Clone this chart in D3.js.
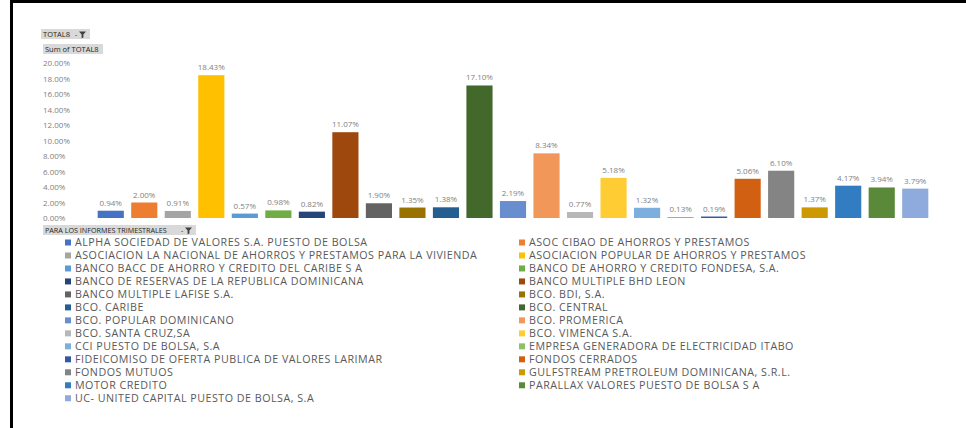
<!DOCTYPE html>
<html>
<head>
<meta charset="utf-8">
<script src="https://cdn.jsdelivr.net/npm/d3@7"></script>
<style>
  body { margin: 0; background: #fff; }
  text { font-family: "Open Sans", sans-serif; }
</style>
</head>
<body>
<svg width="966" height="428"></svg>
<script>
// Entities in pivot order
const names = [
  "ALPHA SOCIEDAD DE VALORES S.A. PUESTO DE BOLSA",
  "ASOC CIBAO DE AHORROS Y PRESTAMOS",
  "ASOCIACION LA NACIONAL DE AHORROS Y PRESTAMOS PARA LA VIVIENDA",
  "ASOCIACION POPULAR DE AHORROS Y PRESTAMOS",
  "BANCO BACC DE AHORRO Y CREDITO DEL CARIBE S A",
  "BANCO DE AHORRO Y CREDITO FONDESA, S.A.",
  "BANCO DE RESERVAS DE LA REPUBLICA DOMINICANA",
  "BANCO MULTIPLE BHD LEON",
  "BANCO MULTIPLE LAFISE S.A.",
  "BCO. BDI, S.A.",
  "BCO. CARIBE",
  "BCO. CENTRAL",
  "BCO. POPULAR DOMINICANO",
  "BCO. PROMERICA",
  "BCO. SANTA CRUZ,SA",
  "BCO. VIMENCA S.A.",
  "CCI PUESTO DE BOLSA, S.A",
  "EMPRESA GENERADORA DE ELECTRICIDAD ITABO",
  "FIDEICOMISO DE OFERTA PUBLICA DE VALORES LARIMAR",
  "FONDOS CERRADOS",
  "FONDOS MUTUOS",
  "GULFSTREAM PRETROLEUM DOMINICANA, S.R.L.",
  "MOTOR CREDITO",
  "PARALLAX VALORES PUESTO DE BOLSA S A",
  "UC- UNITED CAPITAL PUESTO DE BOLSA, S.A"
];

// Sum of TOTAL8 (share)
const values = [
  0.0094, 0.0200, 0.0091, 0.1843, 0.0057, 0.0098, 0.0082, 0.1107, 0.0190,
  0.0135, 0.0138, 0.1710, 0.0219, 0.0834, 0.0077, 0.0518, 0.0132, 0.0013,
  0.0019, 0.0506, 0.0610, 0.0137, 0.0417, 0.0394, 0.0379
];

const colors = [
  "#4472C4", "#ED7D31", "#A5A5A5", "#FFC000", "#5B9BD5", "#70AD47",
  "#264478", "#9E480E", "#636363", "#997300", "#255E91", "#43682B",
  "#698ED0", "#F1975A", "#B7B7B7", "#FFCD33", "#7CAFDD", "#8CC168",
  "#335AA1", "#D26012", "#848484", "#CC9A00", "#327DC2", "#5A8A39",
  "#8FAADC"
];

const yTicks = [0, 0.02, 0.04, 0.06, 0.08, 0.10, 0.12, 0.14, 0.16, 0.18, 0.20];

const data = names.map((n, i) => ({ name: n, value: values[i], color: colors[i] }));

const svg = d3.select("svg");

// frame
svg.append("path")
  .attr("d", "M11.5,428V1.5H966")
  .attr("fill", "none")
  .attr("stroke", "#000")
  .attr("stroke-width", 3);

// pivot field buttons
function fieldButton(x, y, w, label, filter, fs) {
  const g = svg.append("g").attr("transform", `translate(${x},${y})`);
  g.append("rect").attr("width", w).attr("height", 10).attr("fill", "#d9d9d9");
  g.append("text")
    .attr("x", 2).attr("y", 7.6)
    .attr("font-size", fs)
    .attr("fill", "#262626")
    .text(label);
  if (filter) {
    // dropdown dash + funnel
    g.append("text").attr("x", w - 15).attr("y", 7.5).attr("font-size", 7).attr("fill", "#262626").text("-");
    g.append("path")
      .attr("d", `M${w - 11},2.5h7l-2.6,3v3l-1.8,0.8v-3.8z`)
      .attr("fill", "#404040");
  }
}
fieldButton(41, 29, 49, "TOTAL8", true, 7.5);
fieldButton(43, 44, 60, "Sum of TOTAL8", false, 7.5);
fieldButton(43, 225, 153, "PARA LOS INFORMES TRIMESTRALES", true, 7.2);

// scales
const x = d3.scaleBand()
  .domain(names)
  .range([94, 932])
  .paddingInner(0.22)
  .paddingOuter(0.11);

const y = d3.scaleLinear()
  .domain([0, 0.20])
  .range([218, 63]);

const fmt = d3.format(".2%");

// y axis labels
const yAxis = svg.append("g")
  .attr("transform", "translate(43,0)")
  .call(d3.axisRight(y).tickValues(yTicks).tickFormat(fmt).tickSize(0).tickPadding(0));
yAxis.select(".domain").remove();
yAxis.selectAll("text")
  .attr("font-family", "Open Sans, sans-serif")
  .attr("font-size", 8)
  .attr("fill", "#7f7f7f");

// bars
svg.selectAll(".bar")
  .data(data)
  .enter()
  .append("rect")
  .attr("class", "bar")
  .attr("x", d => x(d.name))
  .attr("y", d => y(d.value))
  .attr("width", x.bandwidth())
  .attr("height", d => y(0) - y(d.value))
  .attr("fill", d => d.color);

// value labels
svg.selectAll(".lbl")
  .data(data)
  .enter()
  .append("text")
  .attr("class", "lbl")
  .attr("x", d => x(d.name) + x.bandwidth() / 2)
  .attr("y", d => y(d.value) - 5)
  .attr("text-anchor", "middle")
  .attr("font-size", 8)
  .attr("fill", "#7f7f7f")
  .text(d => fmt(d.value));

// legend, two columns filled row by row
const legend = svg.selectAll(".leg")
  .data(data)
  .enter()
  .append("g")
  .attr("class", "leg")
  .attr("transform", (d, i) => `translate(${i % 2 === 0 ? 65 : 519},${242.5 + Math.floor(i / 2) * 12.98})`);

legend.append("rect")
  .attr("x", 0).attr("y", -3)
  .attr("width", 6).attr("height", 6)
  .attr("fill", d => d.color);

legend.append("text")
  .attr("x", 10).attr("y", 3.9)
  .attr("font-family", "Liberation Sans, Arial, sans-serif")
  .attr("font-size", 10.7)
  .attr("letter-spacing", 0.5)
  .attr("fill", "#595959")
  .text(d => d.name);
</script>
</body>
</html>
